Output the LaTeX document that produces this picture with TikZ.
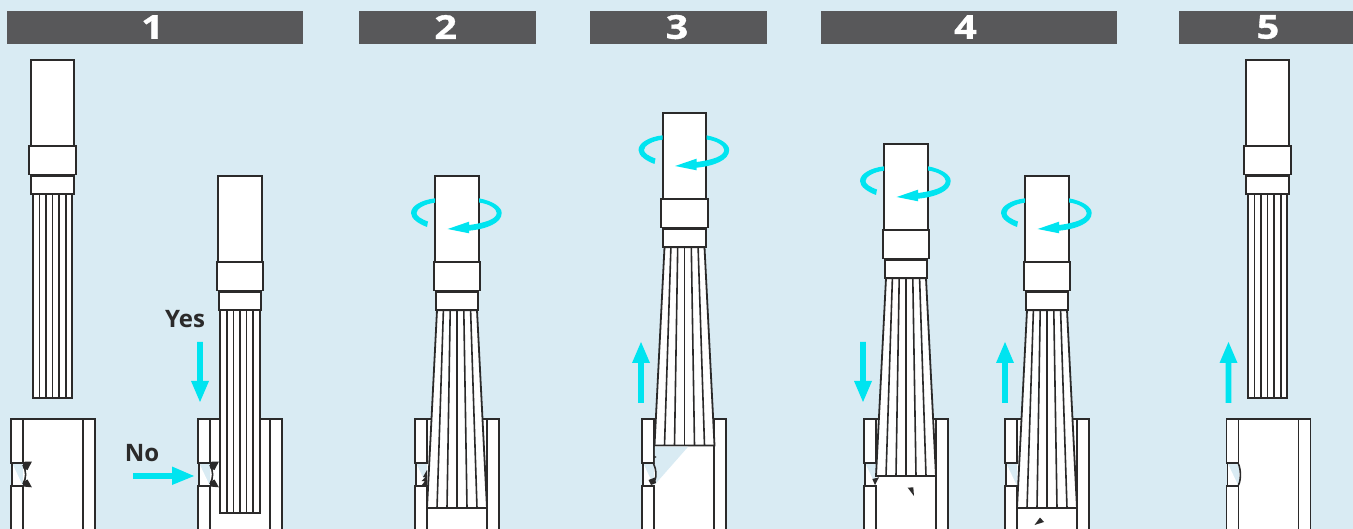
\documentclass[tikz,border=0pt]{standalone}
\usepackage{fontspec}
\setmainfont{Open Sans}
\definecolor{bgblue}{HTML}{D9EBF3}
\definecolor{barcol}{HTML}{58585A}
\definecolor{arrowcyan}{HTML}{00E4F0}
\definecolor{inkcol}{HTML}{2B2A2A}
\tikzset{
  inkline/.style={draw=inkcol,line width=1.8pt,line join=miter},
  partbox/.style={inkline,fill=white},
  thinline/.style={draw=inkcol,line width=1.6pt},
  headbar/.style={fill=barcol,inner sep=0pt,minimum height=33pt},
  headnum/.style={text=white,inner sep=0pt,font=\fontsize{33}{33}\selectfont\bfseries\addfontfeature{FakeStretch=1.2,FakeBold=1}},
  wordlabel/.style={text=inkcol,inner sep=0pt,font=\fontsize{24}{24}\selectfont\bfseries},
  cyanfill/.style={fill=arrowcyan,draw=none},
  burr/.style={fill=inkcol,draw=none}
}
% holder: centre x, top y
\newcommand{\holderpart}[2]{%
  \draw[partbox] (#1-21.7,#2) rectangle (#1+21.7,#2+87);
  \draw[partbox] (#1-23.2,#2+86) rectangle (#1+23.2,#2+114.5);
  \draw[partbox] (#1-21.2,#2+116.2) rectangle (#1+21.2,#2+134.2);
}
% straight bristles: centre, top y of holder, bottom y
\newcommand{\straightbrush}[3]{%
  \holderpart{#1}{#2}
  \draw[partbox] (#1-19.7,#2+134.2) rectangle (#1+19.7,#3);
  \foreach \k in {-2,...,2}{\draw[thinline] (#1+\k*6.6,#2+134.2) -- (#1+\k*6.6,#3);}
}
% flared bristles: centre, top y of holder, bottom y
\newcommand{\flaredbrush}[3]{%
  \holderpart{#1}{#2}
  \draw[partbox] (#1-20,#2+134.2) -- (#1+20,#2+134.2) -- (#1+30,#3) -- (#1-30,#3) -- cycle;
  \foreach \k in {-2,...,2}{\draw[thinline] (#1+\k*6.8,#2+134.2) -- (#1+\k*10,#3);}
}
% tube: left x
\newcommand{\tubebody}[1]{%
  \fill[white] (#1+12,419) rectangle (#1+72,535);
  \draw[inkline] (#1+12,419) -- (#1+72,419);
  \draw[partbox] (#1,419) rectangle (#1+12,463);
  \draw[partbox] (#1,486) rectangle (#1+12,535);
  \draw[partbox] (#1+72,419) rectangle (#1+84,535);
  \draw[inkline,fill=white] (#1+1,463) -- (#1+1,486) -- (#1+12,486);
  \draw[inkline] (#1+1,463) -- (#1+12,463);
}
% rotation arrow: centre x of holder, top y
\newcommand{\spinarrow}[2]{%
  \fill[cyanfill] (#1-22,#2+22.3) .. controls (#1-36,#2+24) and (#1-46,#2+30) .. (#1-46,#2+37)
     .. controls (#1-46,#2+43) and (#1-38,#2+48) .. (#1-30,#2+51) -- (#1-29,#2+45.5)
     .. controls (#1-36,#2+43) and (#1-40.5,#2+40) .. (#1-40.5,#2+37)
     .. controls (#1-40.5,#2+33) and (#1-33,#2+28) .. (#1-22,#2+26.7) -- cycle;
  \fill[cyanfill] (#1+22,#2+22.3) .. controls (#1+36,#2+25) and (#1+44.7,#2+31) .. (#1+44.7,#2+37)
     .. controls (#1+44.7,#2+47) and (#1+30,#2+53) .. (#1+12,#2+54.7)
     -- (#1+12,#2+57.3) -- (#1-9.3,#2+53) -- (#1+12,#2+45.7) -- (#1+12,#2+49)
     .. controls (#1+28,#2+47) and (#1+39.7,#2+43) .. (#1+39.7,#2+37)
     .. controls (#1+39.7,#2+33) and (#1+33,#2+28) .. (#1+22,#2+26.5) -- cycle;
}
\newcommand{\vertarrowdown}[1]{\fill[cyanfill] (#1-2.9,342) -- (#1+2.9,342) -- (#1+2.9,381) -- (#1+9,381) -- (#1,402) -- (#1-9,381) -- (#1-2.9,381) -- cycle;}
\newcommand{\vertarrowup}[1]{\fill[cyanfill] (#1-2.9,403) -- (#1+2.9,403) -- (#1+2.9,363) -- (#1+9,363) -- (#1,342) -- (#1-9,363) -- (#1-2.9,363) -- cycle;}
\begin{document}
\begin{tikzpicture}[x=1pt,y=-1pt]
\useasboundingbox (0,0) rectangle (1353,529);
\clip (0,0) rectangle (1353,529);
\fill[bgblue] (0,0) rectangle (1353,529);
% header bars
\node[headbar,minimum width=296pt] (h1) at (155,27.5) {};
\node[headbar,minimum width=177pt] (h2) at (447.5,27.5) {};
\node[headbar,minimum width=177pt] (h3) at (678.5,27.5) {};
\node[headbar,minimum width=296pt] (h4) at (969,27.5) {};
\node[headbar,minimum width=174pt] (h5) at (1266,27.5) {};
\node[headnum] (n1) at (152.5,27) {1};
\node[headnum] (n2) at (445.7,27) {2};
\node[headnum] (n3) at (677,27) {3};
\node[headnum] (n4) at (965.5,27) {4};
\node[headnum] (n5) at (1268,27) {5};
% step 1
\tubebody{11}
\tubebody{198}
\straightbrush{52.5}{60}{398}
\straightbrush{240}{176}{513}
\draw[thinline] (23,465) .. controls (26.5,471) and (26.5,478) .. (23,484);
\fill[burr] (22.7,461.8) -- (31.9,461.6) -- (27.5,470) -- (23.5,468.5) -- cycle;
\fill[burr] (22.7,486.5) -- (31.9,487.3) -- (27.5,479.5) -- (23.5,481.5) -- cycle;
\draw[thinline] (210,465) .. controls (213.5,471) and (213.5,478) .. (210,484);
\fill[burr] (209.7,461.8) -- (218.9,461.6) -- (214.5,470) -- (210.5,468.5) -- cycle;
\fill[burr] (209.7,486.5) -- (218.9,487.3) -- (214.5,479.5) -- (210.5,481.5) -- cycle;
\node[wordlabel] (yes) at (185,319) {Yes};
\node[wordlabel] (no) at (142,453) {No};
\vertarrowdown{200}
\fill[cyanfill] (133,473.1) -- (172,473.1) -- (172,466.5) -- (194,476) -- (172,485) -- (172,478.9) -- (133,478.9) -- cycle;
% step 2
\tubebody{415}
\flaredbrush{457}{176}{508}
\fill[burr] (427,470) -- (423,477) -- (425.5,477) -- (421.5,481) -- (425,481) -- (421.5,485.5) -- (427,485.5) -- cycle;
\spinarrow{457}{176}
% step 3
\tubebody{642}
\flaredbrush{684.5}{113}{445.5}
\fill[bgblue] (654.9,446.5) -- (688.3,446.5) -- (654.9,484.5) -- cycle;
\draw[thinline] (653.5,463.5) .. controls (656.5,470) and (656.5,476) .. (655,480);
\fill[burr] (654,455.5) -- (656.5,457) -- (654,458.5) -- cycle;
\fill[burr] (648.5,480) -- (655,477.5) -- (656,483) -- (651,485) -- cycle;
\spinarrow{684.5}{113}
\vertarrowup{641}
% step 4
\tubebody{864}
\flaredbrush{906}{144}{476}
\fill[burr] (872.3,479) -- (879,477.3) -- (875,485) -- cycle;
\fill[burr] (907.7,487.7) -- (913.3,487.3) -- (914,496) -- cycle;
\spinarrow{906}{144}
\vertarrowdown{863}
\tubebody{1005}
\flaredbrush{1047}{176}{508}
\fill[burr] (1034.5,525) -- (1040,517.5) -- (1044,522) -- cycle;
\spinarrow{1047}{176}
\vertarrowup{1005}
% step 5
\tubebody{1226.5}
\straightbrush{1267.5}{60}{398}
\draw[thinline] (1238.5,464) .. controls (1241,470) and (1241,480) .. (1238.5,485);
\vertarrowup{1228.5}
\end{tikzpicture}
\end{document}
